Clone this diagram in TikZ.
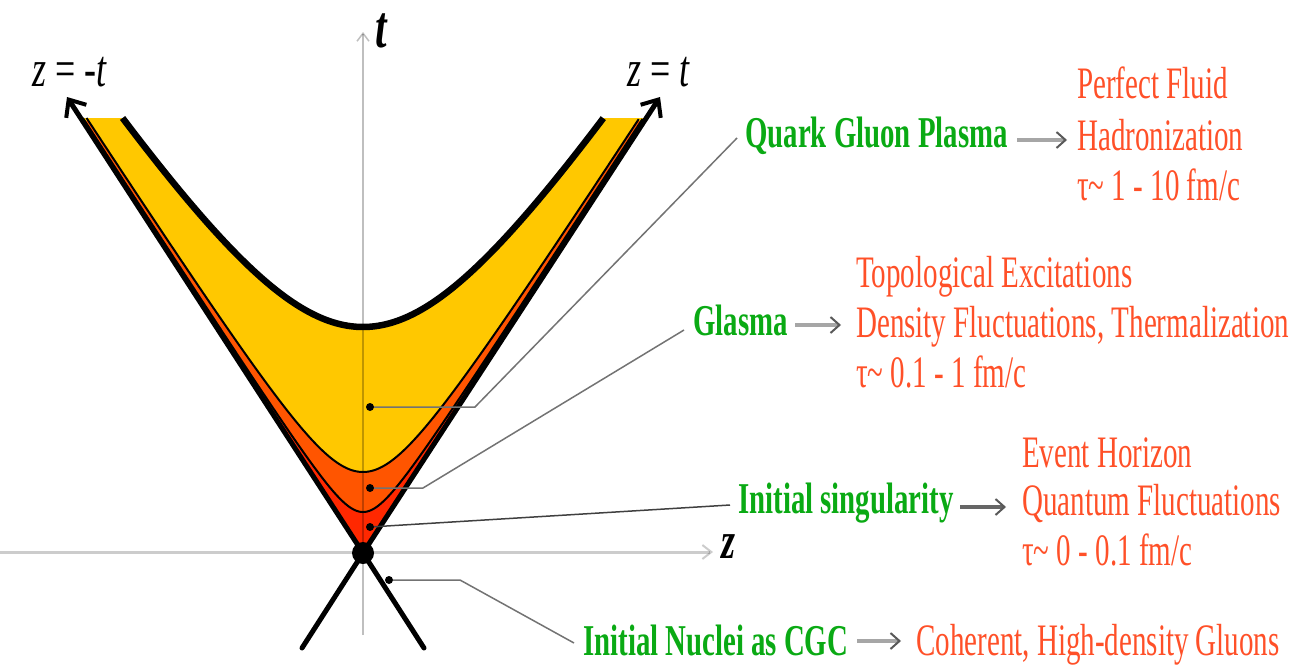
\documentclass[tikz,border=0pt]{standalone}
\usepackage{fontspec}
\usetikzlibrary{arrows.meta}
\newfontfamily\labfont[FakeStretch=0.69]{Liberation Serif}
\newfontfamily\redfont[FakeStretch=0.645]{Liberation Serif}
\newfontfamily\greenfont[FakeStretch=0.655]{Liberation Serif}
\definecolor{qgreen}{RGB}{10,170,20}
\definecolor{qred}{RGB}{255,80,40}
\definecolor{fyellow}{RGB}{255,200,0}
\definecolor{forange}{RGB}{255,85,0}
\definecolor{fred}{RGB}{255,40,0}
\begin{document}
\begin{tikzpicture}[x=1pt,y=-1pt,
  greenlab/.style={anchor=base west, inner sep=0pt, text=qgreen, font=\greenfont\bfseries\fontsize{44}{50}\selectfont},
  redlab/.style={anchor=base west, inner sep=0pt, text=qred, font=\redfont\fontsize{45}{50}\selectfont},
  axlab/.style={anchor=base west, inner sep=0pt, font=\labfont\fontsize{52}{60}\selectfont},
  conn/.style={draw=black!55, line width=1.5pt},
  garrow/.style={line width=3.5pt, draw=black!35, -{Straight Barb[length=9pt,width=16pt,line width=2pt,color=black!65]}},
  pdot/.style={circle, fill=black, inner sep=0pt, minimum size=8pt},
  hyp/.style={domain=-#1:#1, samples=200, variable=\s, smooth}
]
\useasboundingbox (0,0) rectangle (1305,667);
% fills
\fill[fred] (363,553) -- (80.6,119.5) -- (645.4,119.5) -- cycle;
\fill[forange] plot[hyp=3.0527] ({363+41*sinh(\s)/1.546},{553-41*cosh(\s)}) -- cycle;
\fill[fyellow] plot[hyp=2.3653] ({363+81*sinh(\s)/1.546},{553-81*cosh(\s)}) -- cycle;
\fill[fyellow] (82,118) rectangle (644,121);
\fill[white] plot[hyp=1.2725] ({363+226*sinh(\s)/1.546},{553-226*cosh(\s)}) -- cycle;
\fill[white] (124,112) rectangle (602,120);
% axes
\coordinate (tbot) at (363,635);
\coordinate (ttop) at (363,32);
\coordinate (zleft) at (0,552);
\coordinate (zright) at (713,552);
\draw[draw=black, draw opacity=0.25, line width=2pt, -{Straight Barb[length=8pt,width=12pt,line width=1.5pt]}] (tbot) -- (ttop);
\draw[draw=black, draw opacity=0.2, line width=3pt, -{Straight Barb[length=9pt,width=14pt,line width=2pt]}] (zleft) -- (zright);
% hyperbolas
\draw[line width=2pt] plot[hyp=3.0527] ({363+41*sinh(\s)/1.546},{553-41*cosh(\s)});
\draw[line width=2pt] plot[hyp=2.3653] ({363+81*sinh(\s)/1.546},{553-81*cosh(\s)});
\draw[line width=6.5pt] plot[hyp=1.2725] ({363+226*sinh(\s)/1.546},{553-226*cosh(\s)});
% light cone
\coordinate (v) at (363,553);
\coordinate (ul) at (67,97);
\coordinate (ur) at (660,97);
\coordinate (ll) at (302,648);
\coordinate (lr) at (424,648);
\draw[line width=5pt, -{Straight Barb[length=14pt,width=24pt,line width=4pt]}] (v) -- (ul);
\draw[line width=5pt, -{Straight Barb[length=14pt,width=24pt,line width=4pt]}] (v) -- (ur);
\draw[line width=5pt, line cap=round] (ll) -- (v) -- (lr);
\node[circle, fill=black, inner sep=0pt, minimum size=22pt] (sing) at (v) {};
% axis labels
\node[axlab, font=\labfont\bfseries\itshape\fontsize{60}{66}\selectfont] (tlab) at (375,47) {t};
\node[axlab] (zmt) at (32,86) {\itshape z\upshape{} = -\itshape t};
\node[axlab] (zpt) at (627,86) {\itshape z\upshape{} = \itshape t};
\node[axlab, font=\labfont\bfseries\fontsize{52}{60}\selectfont] (zlab) at (721,558) {\itshape z};
% green labels
\node[greenlab] (qgp) at (745,147) {Quark Gluon Plasma};
\node[greenlab] (glasma) at (693,335) {Glasma};
\node[greenlab] (isg) at (738,513) {Initial singularity};
\node[greenlab] (cgc) at (583,655) {Initial Nuclei as CGC};
% red labels
\node[redlab] (pf) at (1077,98) {Perfect Fluid};
\node[redlab] (hadr) at (1077,150) {Hadronization};
\node[redlab] (tau1) at (1077,200) {τ\textasciitilde{} 1 - 10 fm/c};
\node[redlab] (topo) at (856,287) {Topological Excitations};
\node[redlab] (dens) at (856,337) {Density Fluctuations, Thermalization};
\node[redlab] (tau2) at (856,387) {τ\textasciitilde{} 0.1 - 1 fm/c};
\node[redlab] (evh) at (1022,467) {Event Horizon};
\node[redlab] (qfl) at (1022,515) {Quantum Fluctuations};
\node[redlab] (tau3) at (1022,565) {τ\textasciitilde{} 0 - 0.1 fm/c};
\node[redlab] (coh) at (916,655) {Coherent, High-density Gluons};
% gray arrows
\coordinate (a1s) at (1017,140); \coordinate (a1e) at (1067,140);
\coordinate (a2s) at (795,325); \coordinate (a2e) at (841,325);
\coordinate (a3s) at (960,507); \coordinate (a3e) at (1006,507);
\coordinate (a4s) at (857,641); \coordinate (a4e) at (901,641);
\draw[garrow] (a1s) -- (a1e);
\draw[garrow] (a2s) -- (a2e);
\draw[garrow, draw=black!60] (a3s) -- (a3e);
\draw[garrow] (a4s) -- (a4e);
% pointer dots and connectors
\node[pdot] (d1) at (370,407) {};
\node[pdot] (d2) at (370,488) {};
\node[pdot] (d3) at (370,527) {};
\node[pdot] (d4) at (389,580) {};
\coordinate (b1) at (475,407); \coordinate (e1) at (737,138);
\coordinate (b2) at (423,488); \coordinate (e2) at (684,330);
\coordinate (e3) at (730,505);
\coordinate (b4) at (460,580); \coordinate (e4) at (574,643);
\draw[conn] (d1) -- (b1) -- (e1);
\draw[conn] (d2) -- (b2) -- (e2);
\draw[conn, draw=black!75] (d3) -- (e3);
\draw[conn] (d4) -- (b4) -- (e4);
\end{tikzpicture}
\end{document}
